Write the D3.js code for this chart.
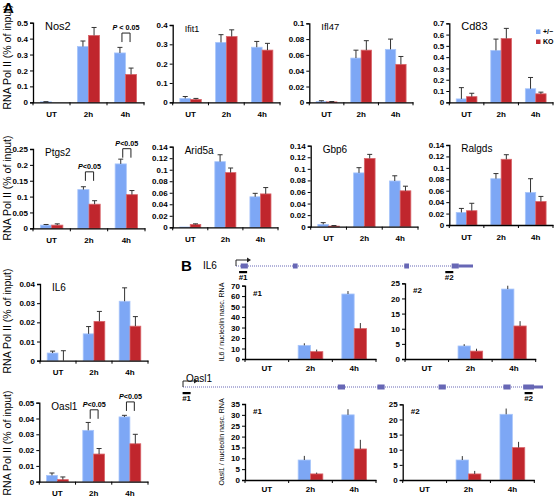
<!DOCTYPE html>
<html><head><meta charset="utf-8">
<script src="https://cdn.jsdelivr.net/npm/d3@7"></script>
<style>body{margin:0;background:#fff}svg{display:block}text{font-family:"Liberation Sans",Arial,sans-serif}</style>
</head><body><svg id="c" width="557" height="499"></svg>
<script>
// ---------- DATA ----------
const groups = ["UT", "2h", "4h"];
const seriesNames = ["+/\u2212", "KO"];
const seriesColors = ["#7da7f5", "#c0262d"];
const seriesEdge = ["#a9c6fb", "#d9656a"];

const geneNamesA = ["Nos2","Ifit1","Ifl47","Cd83","Ptgs2","Arid5a","Gbp6","Ralgds","IL6","Oasl1"];
const axisMaxA  = [0.5, 0.4, 0.1, 0.7, 0.25, 0.14, 0.14, 0.14, 0.04, 0.05];
const axisStepA = [0.1, 0.1, 0.02, 0.1, 0.05, 0.02, 0.02, 0.02, 0.01, 0.01];

const nos2Het = [0.003, 0.35, 0.31],   nos2HetErr = [0.001, 0.035, 0.035];
const nos2KO  = [0, 0.42, 0.175],      nos2KOErr  = [0, 0.05, 0.04];
const ifit1Het = [0.02, 0.31, 0.285],  ifit1HetErr = [0.01, 0.04, 0.03];
const ifit1KO  = [0.015, 0.34, 0.27],  ifit1KOErr  = [0.005, 0.035, 0.035];
const ifl47Het = [0.001, 0.056, 0.067], ifl47HetErr = [0.001, 0.010, 0.013];
const ifl47KO  = [0.0005, 0.066, 0.048], ifl47KOErr = [0.0005, 0.012, 0.010];
const cd83Het = [0.03, 0.46, 0.12],    cd83HetErr = [0.10, 0.10, 0.10];
const cd83KO  = [0.05, 0.565, 0.075],  cd83KOErr  = [0.03, 0.09, 0.015];
const ptgs2Het = [0.01, 0.122, 0.203], ptgs2HetErr = [0.002, 0.009, 0.015];
const ptgs2KO  = [0.01, 0.076, 0.106], ptgs2KOErr  = [0.004, 0.011, 0.013];
const arid5aHet = [0.0005, 0.114, 0.053], arid5aHetErr = [0, 0.012, 0.006];
const arid5aKO  = [0.005, 0.095, 0.058],  arid5aKOErr  = [0.001, 0.008, 0.011];
const gbp6Het = [0.004, 0.093, 0.079], gbp6HetErr = [0.003, 0.009, 0.009];
const gbp6KO  = [0.001, 0.118, 0.062], gbp6KOErr  = [0.001, 0.007, 0.008];
const ralgdsHet = [0.022, 0.081, 0.057], ralgdsHetErr = [0.007, 0.009, 0.024];
const ralgdsKO  = [0.025, 0.115, 0.041], ralgdsKOErr  = [0.013, 0.008, 0.009];
const il6Het = [0.004, 0.014, 0.031],  il6HetErr = [0.001, 0.0038, 0.007];
const il6KO  = [0, 0.0205, 0.018],     il6KOErr  = [0.0052, 0.0052, 0.005];
const oasl1Het = [0.004, 0.0325, 0.041], oasl1HetErr = [0.0015, 0.005, 0.001];
const oasl1KO  = [0.0013, 0.0175, 0.024], oasl1KOErr = [0.0017, 0.0035, 0.006];

// panel B (nascent RNA, normalised to nucleolin)
const nascNames = ["IL6 #1", "IL6 #2", "Oasl1 #1", "Oasl1 #2"];
const nascMax  = [70, 25, 35, 25];
const nascStep = [10, 5, 5, 5];
const il6P1Het = [0, 13, 62],   il6P1HetErr = [0, 2, 2.8];
const il6P1KO  = [0, 7, 29],    il6P1KOErr  = [0, 2, 5.3];
const il6P2Het = [0, 4.3, 23.1], il6P2HetErr = [0, 0.6, 1.1];
const il6P2KO  = [0, 2.6, 10.9], il6P2KOErr  = [0, 0.8, 1.6];
const oaP1Het = [0, 9.2, 30],   oaP1HetErr = [0, 1.9, 2.6];
const oaP1KO  = [0, 2.8, 14.3], oaP1KOErr  = [0, 0.6, 4.2];
const oaP2Het = [0, 6.6, 21.7], oaP2HetErr = [0, 1.3, 1.9];
const oaP2KO  = [0, 2.0, 10.7], oaP2KOErr  = [0, 1.0, 1.9];

// gene structures (relative position 0..100 along the gene)
const il6Exons   = [[2, 5], [24, 26], [71, 73], [91, 94]];
const il6Utr     = [94, 100];
const il6Probes  = [3, 90];
const oasl1Exons = [[43, 45], [54, 56], [71, 73], [89, 91], [94.5, 97.5]];
const oasl1Utr   = [97.5, 100];
const oasl1Probes = [1, 96];

// p-values
const pText1 = "P < 0.05", pText2 = "P<0.05";

// ---------- LAYOUT ----------
const framesA = [
  [33, 144, 22.7, 102.3], [172.7, 280, 25, 102.3], [309.3, 413, 23.3, 102.3], [449.3, 553, 23.3, 102.3],
  [33, 145, 149, 228.3], [172.7, 278, 146.7, 227.3], [310.7, 418, 145.7, 226.7], [449.3, 553, 145, 225],
  [40, 148, 284, 360.7], [39.3, 148, 402.7, 481.7]
];
const titleSizeA = [11, 9, 9.5, 11, 10, 10, 10, 10, 10, 10];
const framesB = [[245, 376, 285.6, 359], [405, 535.7, 283.3, 359], [245, 376, 404, 480], [402.7, 534.3, 404.3, 480]];

const hetA = [nos2Het, ifit1Het, ifl47Het, cd83Het, ptgs2Het, arid5aHet, gbp6Het, ralgdsHet, il6Het, oasl1Het];
const hetErrA = [nos2HetErr, ifit1HetErr, ifl47HetErr, cd83HetErr, ptgs2HetErr, arid5aHetErr, gbp6HetErr, ralgdsHetErr, il6HetErr, oasl1HetErr];
const koA = [nos2KO, ifit1KO, ifl47KO, cd83KO, ptgs2KO, arid5aKO, gbp6KO, ralgdsKO, il6KO, oasl1KO];
const koErrA = [nos2KOErr, ifit1KOErr, ifl47KOErr, cd83KOErr, ptgs2KOErr, arid5aKOErr, gbp6KOErr, ralgdsKOErr, il6KOErr, oasl1KOErr];
const hetB = [il6P1Het, il6P2Het, oaP1Het, oaP2Het];
const hetErrB = [il6P1HetErr, il6P2HetErr, oaP1HetErr, oaP2HetErr];
const koB = [il6P1KO, il6P2KO, oaP1KO, oaP2KO];
const koErrB = [il6P1KOErr, il6P2KOErr, oaP1KOErr, oaP2KOErr];

const svg = d3.select("#c");
const fmt = d => (d === 0 ? "0" : d3.format("~g")(+d.toFixed(4)));

function drawChart(fr, max, step, vals, errs, opt) {
  const [x0, x1, yT, yZ] = fr;
  const g = svg.append("g");
  const x = d3.scaleBand().domain(groups).range([x0, x1]);
  const y = d3.scaleLinear().domain([0, max]).range([yZ, yT]);
  const inner = d3.scaleBand().domain([0, 1]).range([0, x.bandwidth()]).paddingOuter(opt.outer);
  const rows = [];
  groups.forEach((gr, i) => [0, 1].forEach(s => rows.push({gr, s, v: vals[s][i], e: errs[s][i]})));
  g.selectAll("rect.bar").data(rows.filter(d => d.v > 0)).join("rect")
    .attr("x", d => x(d.gr) + inner(d.s)).attr("width", inner.bandwidth())
    .attr("y", d => y(d.v)).attr("height", d => yZ - y(d.v))
    .attr("fill", d => seriesColors[d.s]).attr("stroke", d => seriesEdge[d.s]).attr("stroke-width", 0.8);
  const eb = rows.filter(d => d.e > 0);
  const cx = d => x(d.gr) + inner(d.s) + inner.bandwidth() / 2;
  g.selectAll("line.err").data(eb).join("line")
    .attr("x1", cx).attr("x2", cx).attr("y1", d => y(d.v)).attr("y2", d => y(d.v + d.e))
    .attr("stroke", "#333").attr("stroke-width", 1);
  if (opt.cap) g.selectAll("line.cap").data(eb).join("line")
    .attr("x1", d => cx(d) - 2.5).attr("x2", d => cx(d) + 2.5).attr("y1", d => y(d.v + d.e)).attr("y2", d => y(d.v + d.e))
    .attr("stroke", "#333").attr("stroke-width", 1);
  const n = Math.round(max / step);
  const ya = g.append("g").attr("transform", `translate(${x0},0)`)
    .call(d3.axisLeft(y).tickValues(d3.range(n + 1).map(i => i * step)).tickSize(3).tickPadding(2).tickFormat(fmt));
  ya.selectAll("text").attr("font-size", opt.tick).attr("font-weight", "bold").attr("fill", "#000");
  const xa = g.append("g").attr("transform", `translate(0,${yZ})`)
    .call(d3.axisBottom(x).tickSize(0).tickPadding(opt.lblPad));
  xa.selectAll("text").attr("font-size", opt.tick).attr("font-weight", "bold").attr("fill", "#000");
  // category boundary ticks
  xa.selectAll("line.bt").data(d3.range(4)).join("line")
    .attr("x1", i => x0 + i * x.step()).attr("x2", i => x0 + i * x.step()).attr("y1", 0).attr("y2", 3)
    .attr("stroke", "#000");
  g.selectAll(".domain").attr("stroke", "#000").attr("stroke-width", 1.3);
  g.selectAll(".tick line").attr("stroke", "#000");
  return {x, y, inner, g};
}

// ---------- PANEL A ----------
const charts = geneNamesA.map((name, k) => {
  const c = drawChart(framesA[k], axisMaxA[k], axisStepA[k], [hetA[k], koA[k]], [hetErrA[k], koErrA[k]],
    {outer: 0.667, cap: true, tick: 8, lblPad: 9});
  c.g.append("text").attr("x", framesA[k][0] + 12).attr("y", framesA[k][2] + 7)
    .attr("font-size", titleSizeA[k]).text(name);
  return c;
});

svg.append("text").attr("x", 3).attr("y", 13).attr("font-size", 15).attr("font-weight", "bold").text("A");
[[57], [188], [321], [443]].forEach(([cy]) => {
  svg.append("text").attr("transform", `translate(11,${cy}) rotate(-90)`).attr("text-anchor", "middle")
    .attr("font-size", 10.5).text("RNA Pol II (% of input)");
});

// legend
seriesNames.forEach((s, i) => {
  svg.append("rect").attr("x", 536).attr("y", 29.5 + i * 10).attr("width", 4.5).attr("height", 4.5).attr("fill", seriesColors[i]);
  svg.append("text").attr("x", 543).attr("y", 34 + i * 10).attr("font-size", 7).attr("font-weight", "bold").text(s);
});

// significance brackets
function bracket(c, gi, val, txt) {
  const {x, y, inner, g} = c;
  const gx = x(groups[gi]);
  const xl = gx + inner(0) + inner.bandwidth() / 2 + 2, xr = gx + inner(1) + inner.bandwidth() / 2 - 1;
  const yb = y(val);
  g.append("path").attr("d", `M${xl},${yb + 9}V${yb}H${xr}V${yb + 9}`).attr("fill", "none").attr("stroke", "#222").attr("stroke-width", 1);
  const t = g.append("text").attr("x", (xl + xr) / 2).attr("y", yb - 3).attr("text-anchor", "middle")
    .attr("font-size", 7.2).attr("font-weight", "bold");
  t.append("tspan").attr("font-style", "italic").text(txt[0]);
  t.append("tspan").text(txt.slice(1));
}
bracket(charts[0], 2, 0.435, pText1);
bracket(charts[4], 1, 0.178, pText2);
bracket(charts[4], 2, 0.251, pText2);
bracket(charts[9], 1, 0.0455, pText2);
bracket(charts[9], 2, 0.0505, pText2);

// ---------- PANEL B ----------
svg.append("text").attr("x", 181).attr("y", 271).attr("font-size", 15).attr("font-weight", "bold").text("B");
const bCharts = nascNames.map((name, k) => {
  const c = drawChart(framesB[k], nascMax[k], nascStep[k], [hetB[k], koB[k]], [hetErrB[k], koErrB[k]],
    {outer: 0.77, cap: false, tick: 8, lblPad: 6});
  c.g.append("text").attr("x", framesB[k][0] + 8).attr("y", framesB[k][2] + 10)
    .attr("font-size", 8).attr("font-weight", "bold").text(name.split(" ")[1]);
  return c;
});
svg.append("text").attr("transform", "translate(224,322) rotate(-90)").attr("text-anchor", "middle")
  .attr("font-size", 7).text("IL6 / nucleolin nasc. RNA");
svg.append("text").attr("transform", "translate(224,442) rotate(-90)").attr("text-anchor", "middle")
  .attr("font-size", 7).text("Oasl1 / nucleolin nasc. RNA");

// gene diagrams
const geneCol = "#6767b5";
function gene(label, lx, ly, x0, x1, yl, exons, utr, probes) {
  const s = d3.scaleLinear().domain([0, 100]).range([x0, x1]);
  svg.append("text").attr("x", lx).attr("y", ly).attr("font-size", 10).text(label);
  svg.append("line").attr("x1", s(0)).attr("x2", s(100)).attr("y1", yl).attr("y2", yl)
    .attr("stroke", geneCol).attr("stroke-width", 1).attr("stroke-dasharray", "1,1");
  svg.selectAll(null).data(exons).join("rect").attr("x", d => s(d[0])).attr("width", d => s(d[1]) - s(d[0]))
    .attr("y", yl - 2.5).attr("height", 5).attr("fill", geneCol);
  svg.append("rect").attr("x", s(utr[0])).attr("width", s(utr[1]) - s(utr[0])).attr("y", yl - 1.5).attr("height", 3).attr("fill", geneCol);
  // TSS arrow
  svg.append("path").attr("d", `M${s(0)},${yl}V${yl - 6}H${s(0) + 12}`).attr("fill", "none").attr("stroke", "#222").attr("stroke-width", 1);
  svg.append("path").attr("d", `M${s(0) + 15},${yl - 6}l-4,-2.5v5z`).attr("fill", "#222");
  probes.forEach((p, i) => {
    svg.append("rect").attr("x", s(p) - 4).attr("y", yl + 5).attr("width", 8).attr("height", 2.2).attr("fill", "#000");
    svg.append("text").attr("x", s(p)).attr("y", yl + 14).attr("text-anchor", "middle").attr("font-size", 8)
      .attr("font-weight", "bold").text("#" + (i + 1));
  });
}
gene("IL6", 203, 269, 236, 473, 266, il6Exons, il6Utr, il6Probes);
gene("Oasl1", 186, 382, 183, 543, 387, oasl1Exons, oasl1Utr, oasl1Probes);
</script></body></html>
